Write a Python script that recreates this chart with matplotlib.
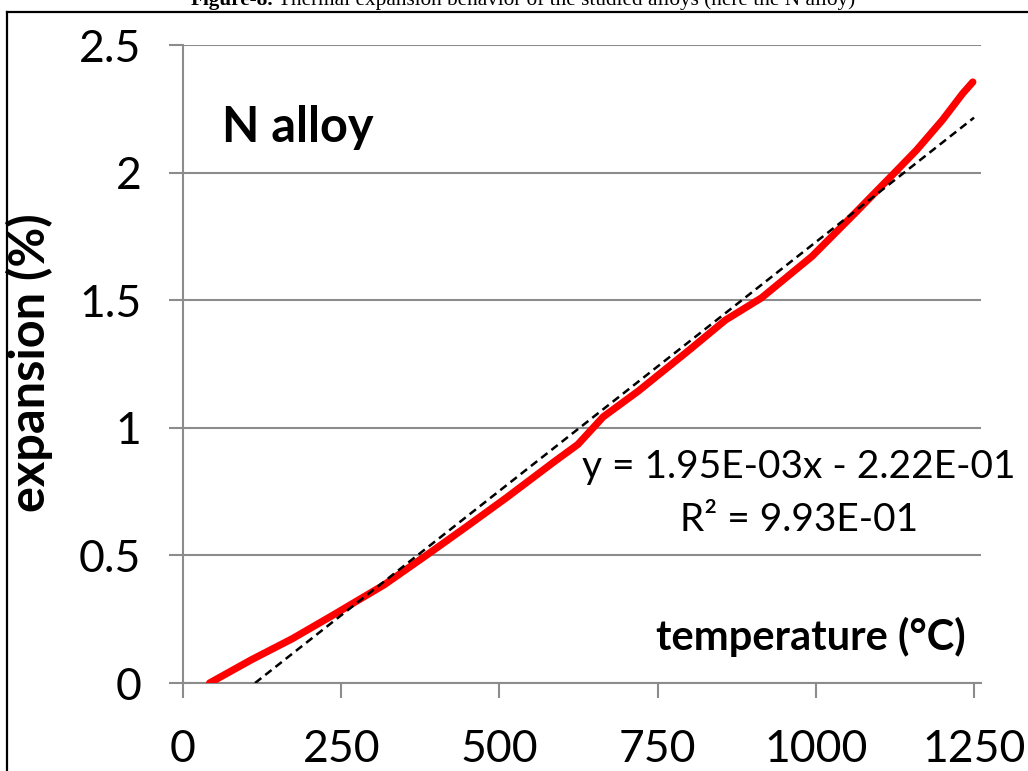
import matplotlib.pyplot as plt
from matplotlib.lines import Line2D
import numpy as np

# Measured expansion curve (N alloy)
temperature = [42, 108, 173, 237, 318, 382, 447, 511, 587, 624, 664, 720,
               801, 857, 914, 994, 1059, 1123, 1159, 1200, 1232, 1248]
expansion = [0.0, 0.091, 0.174, 0.266, 0.385, 0.496, 0.611, 0.726, 0.868, 0.935,
             1.043, 1.145, 1.307, 1.422, 1.509, 1.672, 1.834, 1.996, 2.088, 2.206,
             2.31, 2.355]

# Linear trendline as reported on the chart
slope = 1.95e-3
intercept = -2.22e-1
r_squared = 9.93e-01
trend_x = [-intercept / slope, 1250]

x_ticks = [0, 250, 500, 750, 1000, 1250]
y_ticks = [0, 0.5, 1, 1.5, 2, 2.5]

sans = ['Lato', 'DejaVu Sans']
plt.rcParams['font.family'] = sans

fig = plt.figure(figsize=(10.28, 7.71), dpi=100)
ax = fig.add_axes([0.178, 0.1141, 0.7763, 0.8275])

grid_col = '#8c8c8c'
ax.plot(temperature, expansion, color='red', lw=5.2, solid_capstyle='round',
        solid_joinstyle='round', zorder=3)
tx = np.array(trend_x)
ax.plot(tx, slope * tx + intercept, color='black', lw=1.8, ls=(0, (3.2, 2)), zorder=4)

ax.set_xlim(0, 1261)
ax.set_ylim(0, 2.5)
ax.set_xticks(x_ticks)
ax.set_yticks(y_ticks)
ax.set_yticklabels(['0', '0.5', '1', '1.5', '2', '2.5'])
ax.yaxis.grid(True, color=grid_col, lw=1.5)
ax.set_axisbelow(True)
for s in ['top', 'right']:
    ax.spines[s].set_visible(False)
for s in ['left', 'bottom']:
    ax.spines[s].set_color(grid_col)
    ax.spines[s].set_linewidth(1.5)
ax.tick_params(axis='x', direction='out', length=11, width=1.5, color=grid_col,
               labelsize=32, pad=22)
ax.tick_params(axis='y', direction='out', length=10, width=1.5, color=grid_col,
               labelsize=32, pad=20)

ax.text(62, 2.175, 'N alloy', fontsize=35, fontweight='bold', ha='left', va='center')
ax.text(973, 0.846, 'y = 1.95E-03x - 2.22E-01', fontsize=28, ha='center', va='center')
ax.text(973, 0.64, 'R² = %.2E' % r_squared, fontsize=28, ha='center', va='center')
ax.text(992, 0.18, 'temperature (°C)', fontsize=30, fontweight='bold',
        ha='center', va='center')
fig.text(0.029, 0.529, 'expansion (%)', fontsize=35, fontweight='bold',
         rotation=90, ha='center', va='center')

# Page frame (partially visible)
fy = 1 - 12 / 771
fx = 7 / 1028
fig.add_artist(Line2D([fx, 1], [fy, fy], color='black', lw=1.6, transform=fig.transFigure))
fig.add_artist(Line2D([fx, fx], [0, fy], color='black', lw=1.6, transform=fig.transFigure))

# Caption cut off at the top edge
serif = ['Liberation Serif', 'DejaVu Serif']
cap_y = 1 - 5 / 771
renderer = fig.canvas.get_renderer()
t1 = fig.text(0, cap_y, 'Figure-8.', family=serif, fontweight='bold', fontsize=15.3,
              va='baseline')
t2 = fig.text(0, cap_y, ' Thermal expansion behavior of the studied alloys (here the N alloy)',
              family=serif, fontsize=15.3, va='baseline')
w1 = t1.get_window_extent(renderer).width
w2 = t2.get_window_extent(renderer).width
x0 = 523 - (w1 + w2) / 2
t1.set_x(x0 / 1028)
t2.set_x((x0 + w1) / 1028)

fig.savefig('out.png', dpi=100)
